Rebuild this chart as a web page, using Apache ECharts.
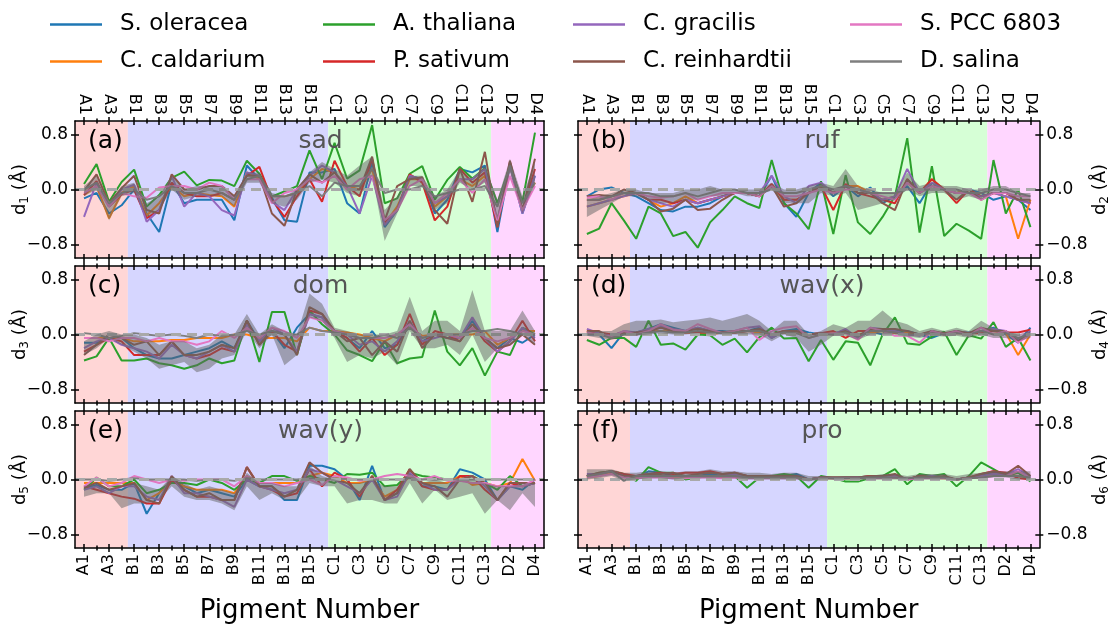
<!DOCTYPE html>
<html><head><meta charset="utf-8">
<script src="https://cdn.jsdelivr.net/npm/echarts@6/dist/echarts.min.js"></script>
<style>html,body{margin:0;padding:0;background:#fff}#c{width:1112px;height:628px}</style>
</head><body><div id="c"></div>
<script>
const categories = ['A1','A2','A3','A4','B1','B2','B3','B4','B5','B6','B7','B8','B9','B10','B11','B12','B13','B14','B15','B16','C1','C2','C3','C4','C5','C6','C7','C8','C9','C10','C11','C12','C13','D1','D2','D3','D4'];
const speciesNames = ['S. oleracea','C. caldarium','A. thaliana','P. sativum','C. gracilis','C. reinhardtii','S. PCC 6803','D. salina'];
const panelTitles = ['sad','ruf','dom','wav(x)','wav(y)','pro'];
const panelLabels = ['(a)','(b)','(c)','(d)','(e)','(f)'];
const ySubscripts = ['1','2','3','4','5','6'];
const yTicks = [-0.8, 0.0, 0.8];

// (a) sad
const a_SO = [-0.13,-0.05,-0.35,-0.23,0.0,-0.35,-0.62,0.1,-0.2,-0.15,-0.15,-0.15,-0.45,0.35,0.15,-0.12,-0.45,-0.47,0.25,0.25,0.3,-0.2,-0.35,0.4,-0.55,-0.3,0.2,0.15,-0.35,-0.15,0.3,0.25,0.35,-0.62,0.35,-0.35,0.2];
const a_CC = [-0.08,0.05,-0.42,-0.05,0.05,-0.38,-0.2,0.05,-0.1,-0.05,-0.08,-0.1,-0.25,0.25,0.15,-0.1,-0.1,-0.05,0.15,0.3,0.25,0.05,0.0,0.3,-0.5,-0.25,0.15,0.15,-0.25,-0.1,0.15,0.05,0.2,-0.45,0.35,-0.3,0.1];
const a_AT = [0.08,0.37,-0.18,0.11,0.29,-0.25,-0.08,0.17,0.26,0.06,0.14,0.13,0.05,0.42,0.23,-0.1,-0.03,0.05,0.57,0.15,0.68,0.16,0.28,0.94,-0.2,-0.13,0.23,0.34,-0.15,0.14,0.33,0.16,0.31,-0.2,0.35,-0.18,0.83];
const a_PS = [-0.08,0.12,-0.25,-0.07,0.0,-0.42,-0.3,0.1,-0.05,-0.1,-0.1,-0.05,-0.15,0.2,0.33,-0.15,-0.4,-0.1,0.15,-0.18,0.42,0.05,-0.1,0.45,-0.48,-0.3,0.22,0.1,-0.45,-0.25,0.3,0.1,0.25,-0.55,0.4,-0.3,0.3];
const a_CG = [-0.4,0.1,-0.25,0.0,0.07,-0.47,-0.3,0.2,-0.25,-0.05,-0.1,-0.3,-0.38,0.25,0.2,-0.18,-0.3,0.0,0.2,0.35,0.25,0.05,-0.35,0.2,-0.52,-0.3,0.2,0.15,-0.2,-0.1,0.15,0.15,0.3,-0.45,0.35,-0.35,0.2];
const a_CR = [-0.02,0.22,-0.2,0.02,0.2,-0.3,-0.35,0.22,0.0,0.0,0.05,0.05,-0.1,0.2,0.2,-0.35,-0.53,0.0,0.22,0.1,0.25,0.0,0.0,0.48,-0.45,0.05,0.15,0.18,-0.3,-0.5,0.3,-0.18,0.55,-0.55,0.42,-0.3,0.45];
const a_PCC = [-0.05,0.05,-0.25,-0.05,-0.1,-0.12,0.03,0.05,0.05,0.0,0.1,0.05,-0.15,0.15,0.15,-0.2,-0.05,0.0,0.15,0.1,0.2,0.0,0.15,0.2,-0.45,-0.3,0.05,0.15,-0.2,-0.05,0.15,-0.05,0.15,-0.45,0.2,-0.3,0.05];
const a_DS = [0.0,0.1,-0.2,-0.05,0.0,-0.15,-0.1,0.05,-0.05,-0.05,0.0,-0.05,-0.15,0.15,0.2,-0.1,-0.1,-0.05,0.05,-0.1,0.1,0.05,0.05,0.3,-0.05,0.0,0.0,0.05,-0.1,-0.05,0.0,0.0,0.05,-0.25,0.35,-0.2,0.1];
const a_lo = [-0.1,0.0,-0.45,-0.1,-0.05,-0.4,-0.3,0.0,-0.15,-0.1,-0.1,-0.1,-0.25,0.1,0.1,-0.2,-0.25,-0.15,0.1,0.15,0.1,-0.05,-0.1,0.2,-0.75,-0.35,0.05,0.05,-0.3,-0.2,0.1,0.0,0.1,-0.45,0.25,-0.35,0.1];
const a_hi = [0.05,0.2,-0.2,0.05,0.1,-0.2,-0.1,0.2,0.0,0.05,0.05,0.05,-0.1,0.25,0.25,-0.05,-0.1,0.0,0.25,0.4,0.3,0.2,0.35,0.48,-0.3,-0.1,0.2,0.2,-0.1,0.0,0.3,0.15,0.35,-0.15,0.45,-0.1,0.4];

// (b) ruf
const b_SO = [-0.1,0.0,0.03,-0.05,-0.1,-0.2,-0.3,-0.32,-0.25,-0.25,-0.2,-0.1,-0.05,-0.05,-0.1,0.2,-0.2,-0.4,-0.05,0.1,-0.1,0.05,-0.1,0.03,-0.2,-0.1,0.05,-0.2,0.1,0.0,-0.05,0.0,-0.05,-0.15,-0.1,-0.15,-0.3];
const b_CC = [-0.25,-0.2,-0.15,-0.1,-0.05,-0.15,-0.25,-0.2,-0.1,-0.2,-0.15,-0.1,-0.05,-0.05,-0.1,0.05,-0.15,-0.15,-0.05,0.05,-0.05,0.05,0.05,-0.05,-0.15,-0.1,0.1,-0.05,0.15,0.0,-0.05,0.0,-0.1,-0.05,-0.1,-0.72,-0.15];
const b_AT = [-0.65,-0.57,-0.2,-0.45,-0.72,-0.25,-0.35,-0.68,-0.62,-0.85,-0.48,-0.3,-0.1,-0.2,-0.27,0.43,-0.2,-0.35,-0.58,0.12,-0.65,0.21,-0.48,-0.65,-0.4,-0.1,0.75,-0.63,0.34,-0.68,-0.5,-0.6,-0.72,0.43,-0.35,0.0,-0.55];
const b_PS = [-0.15,-0.15,-0.1,-0.05,-0.05,-0.15,-0.15,-0.2,-0.15,-0.2,-0.15,-0.1,-0.05,-0.05,-0.1,0.08,-0.15,-0.15,-0.05,0.05,-0.3,0.08,-0.05,-0.1,-0.15,-0.2,0.15,-0.05,0.15,0.0,-0.2,0.0,-0.1,-0.05,-0.05,-0.15,-0.2];
const b_CG = [-0.25,-0.2,-0.15,-0.1,-0.05,-0.15,-0.2,-0.25,-0.15,-0.2,-0.15,-0.1,-0.05,-0.05,-0.05,0.2,-0.1,-0.2,0.05,0.1,-0.05,0.05,0.0,-0.05,-0.15,-0.1,0.3,-0.05,0.1,0.0,-0.05,-0.05,-0.1,-0.05,-0.1,-0.15,-0.2];
const b_CR = [-0.1,-0.08,-0.1,0.0,-0.05,-0.15,-0.32,-0.28,-0.15,-0.3,-0.28,-0.15,-0.05,-0.05,-0.1,0.05,-0.25,-0.2,-0.05,0.05,-0.05,0.05,-0.05,-0.05,-0.2,-0.3,0.15,-0.05,0.05,0.0,-0.15,0.0,-0.15,-0.05,-0.05,-0.15,-0.15];
const b_PCC = [-0.12,-0.1,-0.15,-0.05,-0.05,-0.1,-0.12,-0.1,-0.05,-0.15,-0.1,-0.05,-0.05,-0.05,-0.1,0.05,-0.1,-0.1,-0.05,0.0,-0.05,0.0,0.0,-0.05,-0.1,-0.15,0.1,-0.05,0.05,0.0,-0.05,-0.05,-0.15,-0.05,-0.05,-0.1,-0.1];
const b_DS = [-0.15,-0.15,-0.1,-0.05,-0.05,-0.05,-0.1,-0.1,-0.05,-0.1,-0.05,0.0,0.0,-0.05,-0.05,0.0,-0.05,-0.05,0.0,0.05,0.0,0.05,0.0,-0.05,-0.05,-0.05,0.0,0.0,0.0,0.0,0.0,-0.05,-0.05,0.0,0.0,-0.05,-0.1];
const b_lo = [-0.4,-0.3,-0.2,-0.1,-0.1,-0.15,-0.2,-0.2,-0.15,-0.15,-0.1,-0.1,-0.05,-0.1,-0.1,0.0,-0.2,-0.2,-0.2,-0.05,-0.1,-0.05,-0.3,-0.25,-0.2,-0.15,0.0,-0.1,-0.05,-0.05,-0.15,-0.1,-0.15,-0.05,-0.05,-0.15,-0.2];
const b_hi = [-0.15,-0.1,-0.05,0.0,0.0,-0.05,-0.05,-0.05,0.0,0.0,0.05,0.0,0.0,0.0,0.0,0.1,0.0,0.0,0.05,0.1,0.05,0.3,0.05,0.0,-0.05,-0.05,0.25,0.05,0.1,0.05,0.05,0.0,0.0,0.05,0.05,-0.05,-0.05];

// (c) dom
const c_SO = [-0.12,-0.12,-0.05,-0.05,-0.2,-0.3,-0.35,-0.35,-0.3,-0.25,-0.2,-0.1,-0.2,0.2,-0.1,0.05,-0.2,0.1,0.3,0.25,0.05,-0.05,-0.2,0.05,-0.2,-0.15,0.15,-0.1,0.0,-0.05,-0.05,0.2,-0.05,-0.2,-0.05,-0.12,0.0];
const c_CC = [-0.05,-0.05,-0.05,-0.05,-0.1,-0.1,-0.1,-0.08,-0.08,-0.05,-0.05,-0.05,0.0,0.0,-0.05,-0.05,-0.05,-0.1,0.1,0.05,0.05,0.03,0.0,-0.05,-0.1,0.0,0.1,-0.02,0.0,0.0,0.0,0.0,0.05,-0.15,-0.05,0.05,0.05];
const c_AT = [-0.38,-0.32,-0.05,-0.38,-0.38,-0.35,-0.42,-0.45,-0.5,-0.45,-0.35,-0.42,-0.38,0.2,-0.4,0.33,0.33,-0.3,0.35,0.15,0.0,-0.23,-0.3,-0.39,-0.1,-0.42,-0.35,-0.33,0.35,-0.25,-0.45,-0.2,-0.6,-0.25,-0.3,0.1,0.0];
const c_PS = [-0.25,-0.15,-0.05,-0.1,-0.3,-0.3,-0.3,-0.1,-0.3,-0.35,-0.3,-0.2,-0.25,0.2,-0.15,0.05,-0.15,-0.25,0.35,0.3,0.05,-0.05,-0.25,-0.05,-0.3,-0.15,0.3,-0.15,0.05,0.0,-0.1,0.15,-0.1,-0.25,-0.1,0.2,-0.1];
const c_CG = [-0.2,-0.1,-0.05,-0.15,-0.2,-0.25,-0.35,-0.15,-0.3,-0.35,-0.25,-0.15,-0.25,0.15,-0.1,0.1,0.0,-0.25,0.3,0.25,0.05,0.0,-0.15,-0.1,-0.25,-0.1,0.2,-0.1,-0.05,0.0,-0.05,0.25,-0.05,-0.25,-0.1,0.1,-0.05];
const c_CR = [-0.3,-0.15,0.0,-0.05,-0.15,-0.1,-0.3,-0.1,-0.3,-0.3,-0.25,-0.15,-0.2,0.2,-0.15,0.05,0.0,-0.3,0.4,0.3,0.05,-0.1,-0.05,-0.3,-0.1,-0.25,0.2,-0.2,0.0,-0.05,-0.1,0.15,-0.05,-0.2,-0.15,0.0,-0.15];
const c_PCC = [-0.05,-0.05,-0.1,-0.05,-0.05,-0.1,-0.05,-0.1,-0.1,-0.15,-0.1,0.05,-0.05,0.1,-0.05,0.1,0.05,-0.05,0.25,0.2,0.05,0.0,-0.05,-0.05,-0.05,0.0,0.15,-0.05,0.0,0.0,-0.05,0.1,-0.05,-0.1,-0.05,0.05,0.0];
const c_DS = [0.02,0.0,-0.05,-0.02,0.02,0.0,-0.02,0.0,-0.02,-0.05,0.0,-0.02,0.0,0.05,0.0,0.05,0.0,0.0,0.1,0.05,0.03,0.0,-0.05,-0.05,0.0,-0.05,0.1,-0.05,0.0,0.0,0.0,0.05,0.05,0.08,0.05,0.0,0.0];
const c_lo = [-0.3,-0.2,-0.05,-0.15,-0.25,-0.35,-0.5,-0.45,-0.4,-0.55,-0.5,-0.35,-0.3,0.05,-0.2,0.0,-0.45,-0.3,0.25,0.2,-0.05,-0.4,-0.3,-0.35,-0.25,-0.45,0.05,-0.2,-0.2,-0.15,-0.3,0.0,-0.4,-0.2,-0.15,0.0,-0.15];
const c_hi = [-0.1,0.0,0.05,0.0,0.0,-0.05,-0.15,-0.1,-0.1,-0.2,-0.15,0.0,0.0,0.3,0.0,0.15,0.05,0.0,0.6,0.45,0.1,0.05,0.0,0.0,0.0,0.05,0.55,0.05,0.2,0.2,0.05,0.65,0.05,0.05,0.05,0.35,0.05];

// (d) wav(x)
const d_SO = [0.0,0.0,-0.2,0.03,0.03,0.08,0.15,0.1,0.05,0.1,0.05,0.05,0.03,0.05,0.1,-0.05,0.05,0.08,0.03,0.0,0.02,0.05,-0.05,0.05,0.0,0.05,0.05,0.0,-0.05,0.02,0.03,0.03,0.05,0.1,0.0,-0.12,0.1];
const d_CC = [0.05,0.02,0.0,0.02,0.03,0.05,0.05,0.05,0.03,0.03,0.0,0.03,0.03,0.05,0.03,0.0,0.03,0.02,0.0,0.02,0.02,0.03,0.0,0.03,0.05,0.02,0.03,0.0,0.02,0.02,0.03,0.02,0.05,0.05,0.02,-0.3,0.0];
const d_AT = [-0.08,-0.15,-0.05,-0.05,-0.18,0.2,-0.15,-0.13,-0.22,0.0,-0.01,-0.15,-0.06,-0.26,-0.04,0.1,-0.06,-0.05,-0.39,-0.08,-0.37,-0.1,-0.12,-0.45,0.0,0.25,-0.13,-0.15,-0.03,0.04,-0.3,-0.01,-0.06,0.18,-0.18,-0.05,-0.38];
const d_PS = [0.03,0.03,0.0,0.02,0.0,0.05,0.1,0.05,0.03,0.03,0.03,0.03,0.03,0.05,0.05,0.0,0.05,0.05,0.0,0.02,0.05,-0.05,0.05,0.05,0.05,0.03,0.0,0.0,0.03,0.0,0.02,0.02,0.02,0.05,0.03,0.03,0.07];
const d_CG = [0.08,0.02,-0.02,0.05,0.03,0.08,0.12,0.08,0.05,0.1,0.05,0.03,0.05,0.1,0.12,-0.05,0.05,0.05,0.0,0.02,0.0,0.08,-0.05,0.1,0.08,0.05,0.0,-0.02,0.05,0.0,0.05,0.02,0.05,0.08,0.05,-0.08,0.05];
const d_CR = [0.05,0.05,-0.05,0.02,0.03,0.05,0.1,0.05,0.05,0.08,0.05,0.03,0.05,0.05,0.08,0.0,0.05,0.05,0.0,0.02,0.0,0.05,-0.02,0.08,0.08,0.08,0.05,0.0,0.05,0.02,0.05,0.02,0.1,0.05,0.05,-0.1,0.02];
const d_PCC = [0.03,0.0,-0.03,0.05,0.0,0.05,0.15,0.07,0.05,0.15,0.08,0.02,0.05,0.1,-0.08,0.05,0.1,0.12,-0.05,0.0,0.02,0.02,-0.08,0.1,0.05,-0.02,-0.02,-0.12,0.05,0.0,0.05,-0.02,0.1,0.0,0.05,-0.12,0.0];
const d_DS = [0.0,0.0,-0.05,0.0,0.0,0.03,0.05,0.03,0.03,0.05,0.03,0.02,0.03,0.05,0.05,0.0,0.03,0.02,-0.05,0.0,0.0,0.03,-0.03,0.05,0.05,0.03,0.0,0.0,0.02,0.0,0.02,0.0,0.05,0.0,0.02,-0.05,0.0];
const d_lo = [-0.02,-0.05,-0.08,-0.02,-0.02,0.0,0.02,0.0,0.0,0.02,0.0,0.0,0.0,0.0,0.0,-0.1,0.0,-0.05,-0.25,-0.15,-0.02,-0.02,-0.08,0.0,0.0,0.0,-0.03,-0.05,-0.02,-0.03,-0.02,-0.05,0.0,-0.05,-0.05,-0.1,-0.05];
const d_hi = [0.05,0.05,0.05,0.15,0.2,0.2,0.22,0.18,0.2,0.22,0.25,0.2,0.25,0.3,0.2,0.05,0.2,0.2,0.0,0.05,0.15,0.1,0.2,0.2,0.35,0.2,0.15,0.05,0.1,0.05,0.1,0.05,0.2,0.1,0.05,0.0,0.05];

// (e) wav(y)
const e_SO = [-0.12,-0.08,-0.15,-0.15,-0.05,-0.5,-0.2,0.0,-0.1,-0.2,-0.15,-0.2,-0.25,0.0,-0.1,-0.1,-0.3,-0.3,0.2,0.2,0.15,0.0,-0.3,0.2,-0.3,-0.2,0.15,-0.1,-0.1,-0.15,0.15,0.1,0.0,-0.3,-0.1,-0.15,0.0];
const e_CC = [-0.05,-0.05,-0.05,-0.05,-0.05,-0.3,-0.2,0.0,-0.1,-0.15,-0.15,-0.15,-0.2,0.05,-0.05,-0.05,-0.05,-0.05,0.05,0.1,0.05,-0.05,-0.05,0.0,-0.25,-0.15,0.05,-0.05,-0.05,-0.05,0.05,-0.08,-0.05,-0.1,-0.05,0.3,-0.02];
const e_AT = [-0.15,0.03,-0.1,-0.1,0.0,-0.2,-0.15,-0.05,-0.05,-0.08,0.0,-0.05,-0.15,0.0,-0.05,0.05,0.05,-0.02,0.05,0.0,-0.05,0.08,0.07,0.1,-0.1,-0.08,0.1,0.05,0.03,0.0,-0.02,0.05,-0.05,-0.15,0.05,-0.1,-0.05];
const e_PS = [-0.1,-0.15,-0.2,-0.25,-0.28,-0.35,-0.35,0.0,-0.15,-0.25,-0.25,-0.3,-0.3,0.18,-0.1,-0.15,-0.25,-0.2,0.15,-0.1,0.1,0.0,-0.25,0.05,-0.3,-0.15,0.15,-0.1,-0.15,-0.15,0.05,0.05,-0.15,-0.3,-0.05,-0.1,-0.05];
const e_CG = [-0.15,-0.1,-0.2,-0.1,-0.1,-0.25,-0.3,0.05,-0.2,-0.2,-0.25,-0.3,-0.4,0.0,-0.1,-0.15,-0.2,-0.15,0.15,0.1,0.0,-0.1,-0.2,0.0,-0.3,-0.25,0.1,-0.05,-0.15,-0.15,0.0,0.05,-0.1,-0.3,-0.1,-0.1,-0.05];
const e_CR = [-0.12,-0.05,-0.15,-0.1,-0.05,-0.3,-0.35,0.05,-0.15,-0.25,-0.2,-0.3,-0.3,0.18,-0.1,-0.1,-0.25,-0.15,0.25,0.1,0.0,-0.05,-0.2,0.05,-0.3,-0.2,0.15,-0.05,-0.1,-0.25,0.0,0.05,-0.05,-0.3,-0.05,-0.05,-0.05];
const e_PCC = [-0.1,0.03,-0.1,-0.05,0.05,0.0,-0.05,0.0,-0.02,0.0,0.0,0.0,-0.1,0.05,-0.05,-0.05,-0.1,-0.05,0.0,-0.08,0.05,0.03,-0.02,0.0,0.05,0.08,0.05,0.0,0.05,-0.02,-0.02,-0.05,-0.05,-0.1,-0.1,-0.1,0.0];
const e_DS = [0.0,0.0,-0.02,0.0,0.02,0.0,0.0,0.0,0.0,-0.02,0.0,0.0,-0.02,0.02,0.0,0.0,0.0,0.0,0.02,0.0,0.02,0.0,0.0,0.0,0.0,0.0,0.02,0.0,0.0,0.0,0.0,0.0,0.0,0.0,0.0,0.0,0.0];
const e_lo = [-0.25,-0.2,-0.2,-0.42,-0.35,-0.35,-0.3,-0.1,-0.25,-0.3,-0.3,-0.35,-0.45,-0.1,-0.3,-0.2,-0.3,-0.3,-0.05,-0.1,-0.1,-0.35,-0.3,-0.3,-0.35,-0.35,-0.05,-0.35,-0.15,-0.3,-0.25,-0.2,-0.5,-0.3,-0.45,-0.2,-0.4];
const e_hi = [-0.1,-0.05,-0.15,-0.15,-0.05,-0.1,-0.15,0.05,-0.05,-0.15,-0.1,-0.15,-0.2,0.1,-0.05,-0.05,-0.1,-0.1,0.2,0.05,0.0,-0.05,-0.05,0.0,-0.1,-0.1,0.1,-0.05,0.0,-0.05,0.0,0.0,-0.05,-0.1,-0.1,-0.05,-0.05];

// (f) pro
const f_SO = [0.05,0.08,0.1,0.05,0.03,0.12,0.1,0.05,0.05,0.05,0.08,0.05,0.08,0.05,0.03,0.05,0.05,0.08,0.0,0.03,0.02,0.03,0.03,0.05,0.05,0.05,0.0,0.05,0.03,0.03,0.0,0.03,0.05,0.1,0.08,0.1,0.03];
const f_CC = [0.03,0.05,0.1,0.05,0.03,0.05,0.05,0.03,0.03,0.05,0.05,0.03,0.05,0.03,0.03,0.03,0.03,0.03,0.0,0.02,0.02,0.02,0.02,0.03,0.03,0.03,0.0,0.05,0.02,0.02,0.0,0.02,0.03,0.08,0.08,0.05,0.02];
const f_AT = [0.05,0.1,0.12,0.08,-0.02,0.18,0.1,0.1,0.0,0.03,0.05,0.05,0.05,-0.12,0.03,0.05,0.08,0.05,-0.12,0.05,0.02,-0.03,-0.03,0.02,0.05,0.15,-0.07,0.08,0.05,0.08,-0.1,0.05,0.25,0.15,0.05,0.1,-0.03];
const f_PS = [0.05,0.08,0.12,0.08,0.05,0.08,0.1,0.08,0.1,0.1,0.12,0.08,0.1,0.05,0.05,0.05,0.05,0.05,0.0,0.03,0.03,0.03,0.03,0.05,0.05,0.05,0.0,0.05,0.03,0.03,0.0,0.03,0.08,0.12,0.1,0.02,0.0];
const f_CG = [0.08,0.08,0.12,0.05,0.05,0.08,0.05,0.05,0.05,0.05,0.05,0.05,0.08,0.03,0.05,0.05,0.05,0.05,0.0,0.03,0.02,0.02,0.03,0.03,0.03,0.05,0.0,0.03,0.05,0.03,0.0,0.02,0.05,0.08,0.08,0.15,0.05];
const f_CR = [0.05,0.1,0.12,0.05,0.05,0.08,0.08,0.1,0.05,0.08,0.1,0.08,0.1,0.05,0.05,0.05,0.05,0.05,0.0,0.03,0.03,0.03,0.03,0.05,0.05,0.08,0.0,0.05,0.03,0.05,0.0,0.03,0.08,0.12,0.08,0.2,0.05];
const f_PCC = [0.03,0.05,0.08,0.03,0.02,0.03,0.03,0.02,0.02,0.03,0.03,0.02,0.03,0.02,0.02,0.02,0.02,0.02,0.0,0.02,0.02,0.02,0.02,0.02,0.02,0.03,0.0,0.02,0.02,0.02,0.0,0.02,0.03,0.05,0.05,0.12,0.02];
const f_DS = [0.05,0.08,0.12,-0.02,0.05,0.05,0.05,0.05,0.05,0.05,0.05,0.05,0.05,0.03,0.03,0.03,0.03,0.03,0.0,0.02,0.02,0.02,0.02,0.03,0.03,0.03,0.02,0.03,0.03,0.03,0.0,0.02,0.03,0.05,0.05,0.05,0.03];
const f_lo = [0.0,0.02,0.05,-0.02,0.0,0.02,0.02,0.0,0.02,0.02,0.02,0.02,0.02,0.0,0.0,0.0,0.0,0.0,-0.03,0.0,0.0,0.0,0.0,0.0,0.0,0.0,0.0,0.0,0.0,0.0,-0.02,0.0,0.02,0.03,0.03,0.0,0.0];
const f_hi = [0.15,0.15,0.15,0.1,0.1,0.12,0.12,0.1,0.12,0.12,0.15,0.12,0.12,0.1,0.1,0.08,0.1,0.1,0.05,0.05,0.05,0.05,0.05,0.05,0.08,0.08,0.05,0.08,0.08,0.08,0.05,0.08,0.1,0.12,0.12,0.12,0.12];

const panels = [
  {lines:[a_SO,a_CC,a_AT,a_PS,a_CG,a_CR,a_PCC,a_DS], lo:a_lo, hi:a_hi},
  {lines:[b_SO,b_CC,b_AT,b_PS,b_CG,b_CR,b_PCC,b_DS], lo:b_lo, hi:b_hi},
  {lines:[c_SO,c_CC,c_AT,c_PS,c_CG,c_CR,c_PCC,c_DS], lo:c_lo, hi:c_hi},
  {lines:[d_SO,d_CC,d_AT,d_PS,d_CG,d_CR,d_PCC,d_DS], lo:d_lo, hi:d_hi},
  {lines:[e_SO,e_CC,e_AT,e_PS,e_CG,e_CR,e_PCC,e_DS], lo:e_lo, hi:e_hi},
  {lines:[f_SO,f_CC,f_AT,f_PS,f_CG,f_CR,f_PCC,f_DS], lo:f_lo, hi:f_hi}
];

// ---- styling / layout ----
const COLORS = ['#1f77b4','#ff7f0e','#2ca02c','#d62728','#9467bd','#8c564b','#e377c2','#7f7f7f'];
const GROUP_COLORS = {A:'#ffd6d6', B:'#d6d6ff', C:'#d6ffd6', D:'#ffd6ff'};
const FONT = 'DejaVu Sans';
const XMIN = -0.72, XMAX = categories.length - 1 + 0.72;
const gridLeft = [75, 578], gridWidth = [469, 466], gridTop = [121, 266, 411], gridH = 137;
const evenIdx = categories.map((c,i)=>i).filter(i=>i%2===0);
const oddIdx = categories.map((c,i)=>i).filter(i=>i%2===1);
const fmtY = v => (v < 0 ? '\u2212' : '') + Math.abs(v).toFixed(1);

const regions = [];
let start = XMIN;
for (let i = 1; i <= categories.length; i++) {
  if (i === categories.length || categories[i][0] !== categories[i-1][0]) {
    const end = i === categories.length ? XMAX : i - 0.5;
    regions.push([{xAxis: start, itemStyle:{color: GROUP_COLORS[categories[i-1][0]]}}, {xAxis: end}]);
    start = end;
  }
}

const grids = [], xAxes = [], yAxes = [], series = [], titles = [];
const tickStyle = {color:'#000', width:1.5};
const yNameRich = {m:{fontSize:18, fontFamily:FONT, color:'#000'}, s:{fontSize:12, fontFamily:FONT, color:'#000', padding:[9,0,0,0]}};
panels.forEach((p, g) => {
  const col = g % 2, row = Math.floor(g / 2);
  grids.push({left: gridLeft[col], top: gridTop[row], width: gridWidth[col], height: gridH});
  const xb = {type:'value', gridIndex:g, min:XMIN, max:XMAX, splitLine:{show:false}, z:10, axisLine:{show:false, onZero:false}, axisLabel:{show:false}};
  const mainX = xAxes.length;
  ['bottom','top'].forEach(pos => {
    const showLab = (pos === 'bottom' && row === 2) || (pos === 'top' && row === 0);
    xAxes.push(Object.assign({}, xb, {position: pos,
      axisLine:{show:true, onZero:false, lineStyle:{color:'#000', width:1.5}},
      axisTick:{show:true, customValues: evenIdx, length:4, inside:false, lineStyle:tickStyle},
      axisLabel:{show: showLab, customValues: evenIdx, rotate:90, formatter: v => categories[Math.round(v)], fontSize:16, color:'#000', fontFamily:FONT, margin:6},
      name: (pos === 'bottom' && row === 2) ? 'Pigment Number' : '', nameLocation:'middle', nameGap:50,
      nameTextStyle:{fontSize:26, color:'#000', fontFamily:FONT}}));
    xAxes.push(Object.assign({}, xb, {position: pos, axisTick:{show:true, customValues: evenIdx, length:4, inside:true, lineStyle:tickStyle}}));
    xAxes.push(Object.assign({}, xb, {position: pos, axisTick:{show:true, customValues: oddIdx, length:2.5, inside:false, lineStyle:tickStyle}}));
    xAxes.push(Object.assign({}, xb, {position: pos, axisTick:{show:true, customValues: oddIdx, length:2.5, inside:true, lineStyle:tickStyle}}));
  });
  const yb = {type:'value', gridIndex:g, min:-1, max:1, splitLine:{show:false}, z:10, axisLine:{show:false, onZero:false}, axisLabel:{show:false}};
  const mainY = yAxes.length;
  const labPos = col === 0 ? 'left' : 'right';
  ['left','right'].forEach(pos => {
    yAxes.push(Object.assign({}, yb, {position: pos,
      axisLine:{show:true, onZero:false, lineStyle:{color:'#000', width:1.5}},
      axisTick:{show:true, customValues: yTicks, length:4, inside:false, lineStyle:tickStyle},
      axisLabel:{show: pos === labPos, customValues: yTicks, formatter: fmtY, fontSize:17, color:'#000', fontFamily:FONT, margin:7},
      name: pos === labPos ? '{m|d}{s|' + ySubscripts[g] + '}{m| (\u00c5)}' : '', nameLocation:'middle', nameRotate:90,
      nameGap: col === 0 ? 44 : 39, nameMoveOverlap: col !== 0,
      nameTextStyle:{fontSize:18, color:'#000', fontFamily:FONT, rich: yNameRich}}));
    yAxes.push(Object.assign({}, yb, {position: pos, axisTick:{show:true, customValues: yTicks, length:4, inside:true, lineStyle:tickStyle}}));
  });
  series.push({type:'line', xAxisIndex: mainX, yAxisIndex: mainY, data: [], silent:true, z:1,
    markArea:{silent:true, data: regions},
    markLine:{silent:true, symbol:['none','none'], label:{show:false}, lineStyle:{type:[10,6], color:'#a9a9a9', width:3}, data:[{yAxis:0}]}});
  p.lines.forEach((arr, s) => {
    series.push({type:'line', name: speciesNames[s], xAxisIndex: mainX, yAxisIndex: mainY,
      data: arr.map((v,i)=>[i, v]), showSymbol:false, symbol:'none', z:3,
      lineStyle:{width:2, color: COLORS[s]}, itemStyle:{color: COLORS[s]}});
  });
  series.push({type:'custom', xAxisIndex: mainX, yAxisIndex: mainY, silent:true, z:5, clip:true,
    data: p.lo.map((v,i)=>[i, v, p.hi[i]]), encode:{x:0, y:[1,2]},
    renderItem: (params, api) => {
      if (params.dataIndex !== 0) return null;
      const pts = [];
      p.hi.forEach((v,i) => pts.push(api.coord([i, v])));
      for (let i = p.lo.length - 1; i >= 0; i--) pts.push(api.coord([i, p.lo[i]]));
      return {type:'polygon', shape:{points: pts}, style:{fill:'rgba(100,100,100,0.5)'}};
    }});
  titles.push({text: panelLabels[g], left: gridLeft[col] + 8, top: gridTop[row] + 3,
    textStyle:{fontSize:25, fontWeight:'normal', color:'#000', fontFamily:FONT}});
  titles.push({text: panelTitles[g], left: gridLeft[col] + gridWidth[col]/2 + 6, textAlign:'center', top: gridTop[row] + 3,
    textStyle:{fontSize:25, fontWeight:'normal', color:'#555555', fontFamily:FONT}});
});

const legCols = [45, 318, 568, 845], legRows = [8, 45];
const legends = speciesNames.map((n, s) => ({
  data:[{name:n, icon:'rect'}], left: legCols[Math.floor(s/2)], top: legRows[s%2],
  itemWidth:52, itemHeight:2.5, selectedMode:false,
  textStyle:{fontSize:23, color:'#000', fontFamily:FONT, padding:[0,0,0,13]}
}));

const chart = echarts.init(document.getElementById('c'), null, {renderer:'canvas'});
chart.setOption({
  animation:false, backgroundColor:'#ffffff',
  title: titles, legend: legends, grid: grids, xAxis: xAxes, yAxis: yAxes, series: series
});
</script></body></html>
